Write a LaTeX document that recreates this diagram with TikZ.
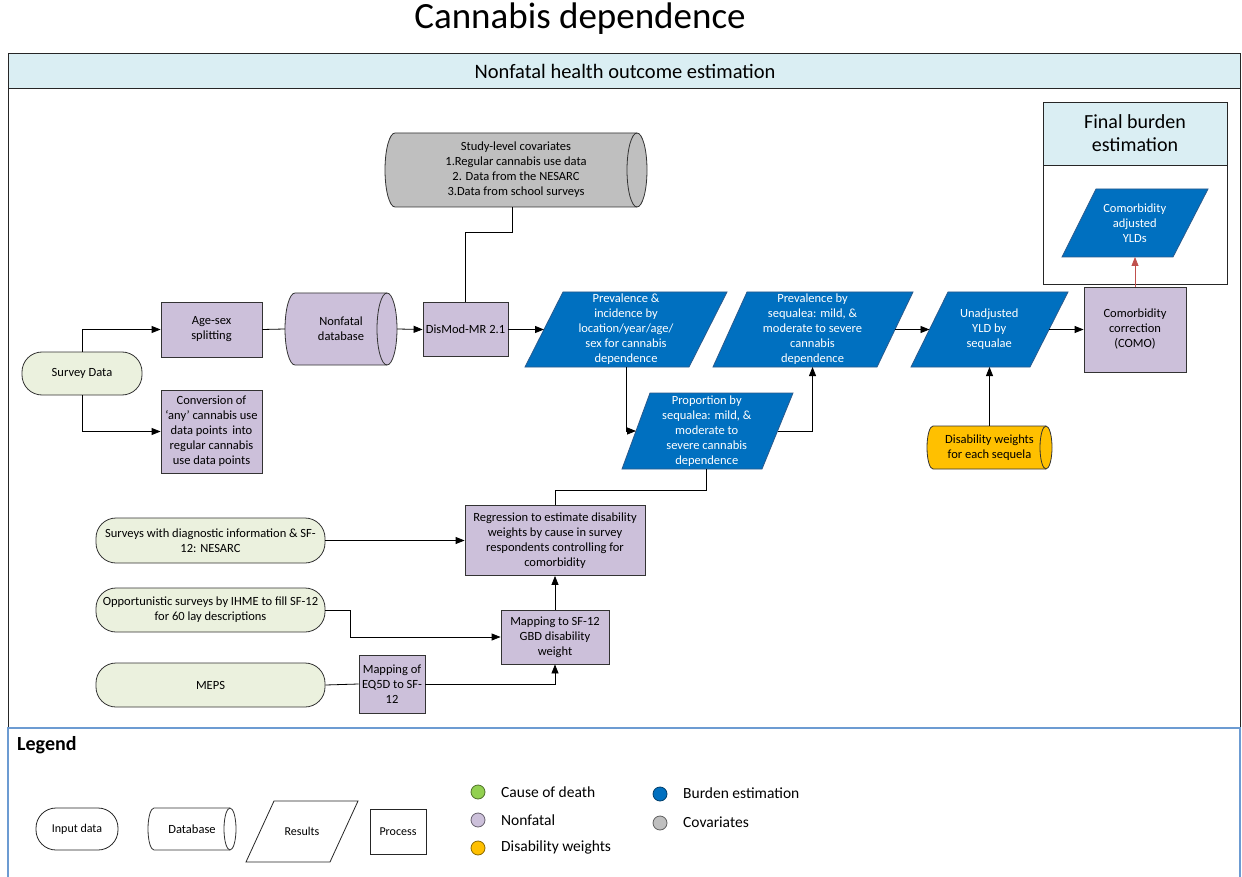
\documentclass[tikz,border=0pt]{standalone}
\usepackage{fontspec}
\setmainfont{Carlito}
\usetikzlibrary{arrows.meta,calc}
\definecolor{lav}{HTML}{CCC0DA}
\definecolor{grn}{HTML}{EBF1DE}
\definecolor{bur}{HTML}{0070C0}
\definecolor{burd}{HTML}{2A5A8C}
\definecolor{hdr}{HTML}{DAEEF3}
\definecolor{cov}{HTML}{BFBFBF}
\definecolor{dw}{HTML}{FFC000}
\definecolor{lgb}{HTML}{6C9BD2}
\definecolor{redar}{HTML}{C0504D}
\definecolor{cgreen}{HTML}{92D050}
\tikzset{
  base/.style={font=\fontsize{12.5}{15}\selectfont, align=center, inner sep=0pt},
  proc/.style={base, draw=black!80, fill=lav, line width=0.8pt},
  inp/.style={base, draw=black!80, fill=grn, line width=0.8pt, rounded corners=20pt},
  res/.style={base, text=white},
  txt/.style={base},
  resshape/.style={fill=bur, draw=burd, line width=0.8pt},
  frame/.style={draw=black!85, line width=0.9pt},
  conn/.style={line width=0.8pt, draw=black},
  arr/.style={conn, -{Triangle[length=9pt,width=7pt]}},
  legtxt/.style={font=\fontsize{15.5}{17}\selectfont, anchor=west, inner sep=0pt},
  legdot/.style={circle, minimum size=14pt, inner sep=0pt, line width=0.8pt}
}
% parallelogram: name, x top-left, x top-right, y top, x bottom-left, x bottom-right, y bottom, style
\newcommand{\para}[8]{%
  \draw[#8] (#2,#4) -- (#3,#4) -- (#6,#7) -- (#5,#7) -- cycle;
  \coordinate (#1-l) at ({(#2+#5)/2},{(#4+#7)/2});
  \coordinate (#1-r) at ({(#3+#6)/2},{(#4+#7)/2});
  \coordinate (#1-c) at ({(#2+#3+#5+#6)/4},{(#4+#7)/2});
  \coordinate (#1-t) at ({(#2+#3)/2},#4);
  \coordinate (#1-b) at ({(#5+#6)/2},#7);
}
% cylinder: name, L, R, T, B, rx, fill, text
\newcommand{\cyl}[8]{%
  \pgfmathsetmacro\cyry{(#5-#4)/2}%
  \pgfmathsetmacro\cyA{#2+#6}%
  \pgfmathsetmacro\cyB{#3-#6}%
  \pgfmathsetmacro\cyw{#3-#2}%
  \pgfmathsetmacro\cyh{#5-#4}%
  \filldraw[fill=#7, draw=black!80, line width=0.8pt] (\cyA,#4) -- (\cyB,#4)
     arc[start angle=90, end angle=-90, x radius=#6pt, y radius=\cyry pt]
     -- (\cyA,#5)
     arc[start angle=-90, end angle=-270, x radius=#6pt, y radius=\cyry pt] -- cycle;
  \draw[black!80, line width=0.8pt] (\cyB,#4)
     arc[start angle=90, end angle=270, x radius=#6pt, y radius=\cyry pt];
  \node[txt, minimum width=\cyw pt, minimum height=\cyh pt] (#1) at ({(#2+#3)/2},{(#4+#5)/2}) {#8};
}
\begin{document}
\begin{tikzpicture}[x=1pt,y=-1pt]
\useasboundingbox (0,0) rectangle (1242,877);
\fill[white] (0,0) rectangle (1242,877);

% title and frames
\node[font=\fontsize{37}{41}\selectfont, inner sep=0pt] (title) at (580,19) {Cannabis dependence};
\draw[frame, fill=hdr] (8,53) rectangle (1240,88);
\node[font=\fontsize{20.5}{23}\selectfont, inner sep=0pt] (hdrtxt) at (625,71) {Nonfatal health outcome estimation};
\draw[frame] (8,88) -- (8,728) (1240,88) -- (1240,728);
\draw[lgb, line width=1.2pt] (8,877) -- (8,728) -- (1240,728) -- (1240,877);

% final burden box
\draw[frame, fill=hdr] (1043,102) rectangle (1227,165);
\draw[frame] (1043,165) rectangle (1227,284);
\node[font=\fontsize{20}{23}\selectfont, align=center, inner sep=0pt] (fbh) at (1135,133.5) {Final burden\\estimation};

% left side
\node[inp, minimum width=120pt, minimum height=43pt] (sd) at (82,373.5) {Survey Data};
\node[proc, minimum width=101pt, minimum height=55pt] (age) at (211.5,329.5) {Age-sex\\splitting};
\node[proc, minimum width=101pt, minimum height=83pt] (conv) at (211.5,431.5) {Conversion of\\‘any’ cannabis use\\data points\, into\\regular cannabis\\use data points};
\cyl{ndb}{285}{397}{293}{365}{10}{lav}{Nonfatal\\database}
\node[proc, minimum width=85pt, minimum height=54pt] (dismod) at (465.5,329.5) {DisMod-MR 2.1};
\cyl{cov}{385}{647}{133}{207}{10}{cov}{Study-level covariates\\1.Regular cannabis use data\\2. Data from the NESARC\\3.Data from school surveys}

% results
\para{pinc}{563}{727}{292}{525}{689}{367}{resshape}
\node[res] (pinct) at (pinc-c) {Prevalence \&\\incidence by\\location/year/age/\\sex for cannabis\\dependence};
\para{pseq}{747}{913}{292}{713}{877}{367}{resshape}
\node[res] (pseqt) at (pseq-c) {Prevalence by\\sequalea: mild, \&\\moderate to severe\\cannabis\\dependence};
\para{prop}{650}{793}{393}{622}{762}{469}{resshape}
\node[res] (propt) at (prop-c) {Proportion by\\sequalea: mild, \&\\moderate to\\severe cannabis\\dependence};
\para{unadj}{948}{1068}{292}{911}{1030}{367}{resshape}
\node[res] (unadjt) at (unadj-c) {Unadjusted\\YLD by\\sequalae};
\para{cay}{1096}{1208}{189}{1062}{1173}{257}{resshape}
\node[res] (cayt) at (cay-c) {Comorbidity\\adjusted\\YLDs};

\node[proc, minimum width=102pt, minimum height=85pt] (como) at (1135,329.5) {Comorbidity\\correction\\(COMO)};
\cyl{dwt}{927}{1052}{426}{469}{6}{dw}{Disability weights\\for each sequela}

% bottom part
\node[inp, minimum width=229pt, minimum height=45pt] (surv) at (210.5,540.5) {Surveys with diagnostic information \& SF-\\12: NESARC};
\node[proc, minimum width=180pt, minimum height=70pt] (reg) at (555,540.5) {Regression to estimate disability\\weights by cause in survey\\respondents controlling for\\comorbidity};
\node[inp, minimum width=229pt, minimum height=44pt] (opp) at (210.5,610) {Opportunistic surveys by IHME to fill SF-12\\for 60 lay descriptions};
\node[proc, minimum width=108pt, minimum height=54pt] (map) at (555,637) {Mapping to SF-12\\GBD disability\\weight};
\node[inp, minimum width=229pt, minimum height=44pt] (meps) at (210.5,685) {MEPS};
\node[proc, minimum width=66pt, minimum height=58pt] (eq) at (392,684) {Mapping of\\EQ5D to SF-\\12};

% connectors
\draw[arr] (sd.north) |- (age.west);
\draw[arr] (sd.south) |- (conv.west);
\draw[conn] (age.east) -- (ndb.west);
\draw[arr] (ndb.east) -- (dismod.west);
\draw[conn] (cov.south) ++(-4,0) coordinate (covb) -- ++(0,25) -| (dismod.north);
\draw[arr] (dismod.east) -- (dismod.east -| pinc-l);
\draw[arr] (pinc-c |- pinc-b) |- (prop-l);
\draw[arr] (prop-r) -| (pseq-c |- pseq-b);
\draw[arr] (pseq-r) -- (unadj-l);
\draw[arr] (unadj-r) -- (como.west);
\draw[redar, line width=0.8pt, -{Triangle[length=9pt,width=7pt]}] (como.north) -- (como.north |- cay-b);
\draw[arr] (dwt.north) -- (dwt.north |- unadj-b);
\draw[conn] (prop-c |- prop-b) -- ++(0,21) -| (reg.north);
\draw[arr] (surv.east) -- (reg.west);
\draw[arr] (opp.east) -- (350,610) |- (map.west);
\draw[arr] (map.north) -- (reg.south);
\draw[conn] (meps.east) -- (eq.west);
\draw[arr] (eq.east) -| (map.south);

% legend
\node[font=\bfseries\fontsize{20}{22}\selectfont, anchor=west, inner sep=0pt] (leg) at (17,745) {Legend};
\node[draw=black!85, line width=0.8pt, rounded corners=20pt, minimum width=82pt, minimum height=42pt, font=\fontsize{12}{14}\selectfont, inner sep=0pt] (linp) at (77,829) {Input data};
\cyl{ldb}{148}{236}{808}{850}{6}{white}{Database}
\para{lres}{274}{358}{801}{246}{330}{862}{draw=black!85, line width=0.8pt}
\node[font=\fontsize{12}{14}\selectfont, inner sep=0pt] (lrest) at (lres-c) {Results};
\node[draw=black!85, line width=0.8pt, minimum width=56pt, minimum height=45pt, font=\fontsize{12}{14}\selectfont, inner sep=0pt] (lproc) at (398,831.5) {Process};

\node[legdot, fill=cgreen, draw=cgreen!55!black] (d1) at (478,792) {};
\node[legtxt] (t1) at (501,792) {Cause of death};
\node[legdot, fill=lav, draw=lav!50!black] (d2) at (478,820) {};
\node[legtxt] (t2) at (501,820) {Nonfatal};
\node[legdot, fill=dw, draw=dw!55!black] (d3) at (478,848) {};
\node[legtxt] (t3) at (501,847) {Disability weights};
\node[legdot, fill=bur, draw=bur!55!black] (d4) at (660,794) {};
\node[legtxt] (t4) at (683,793) {Burden estimation};
\node[legdot, fill=cov, draw=cov!50!black] (d5) at (660,823) {};
\node[legtxt] (t5) at (683,822) {Covariates};
\end{tikzpicture}
\end{document}
